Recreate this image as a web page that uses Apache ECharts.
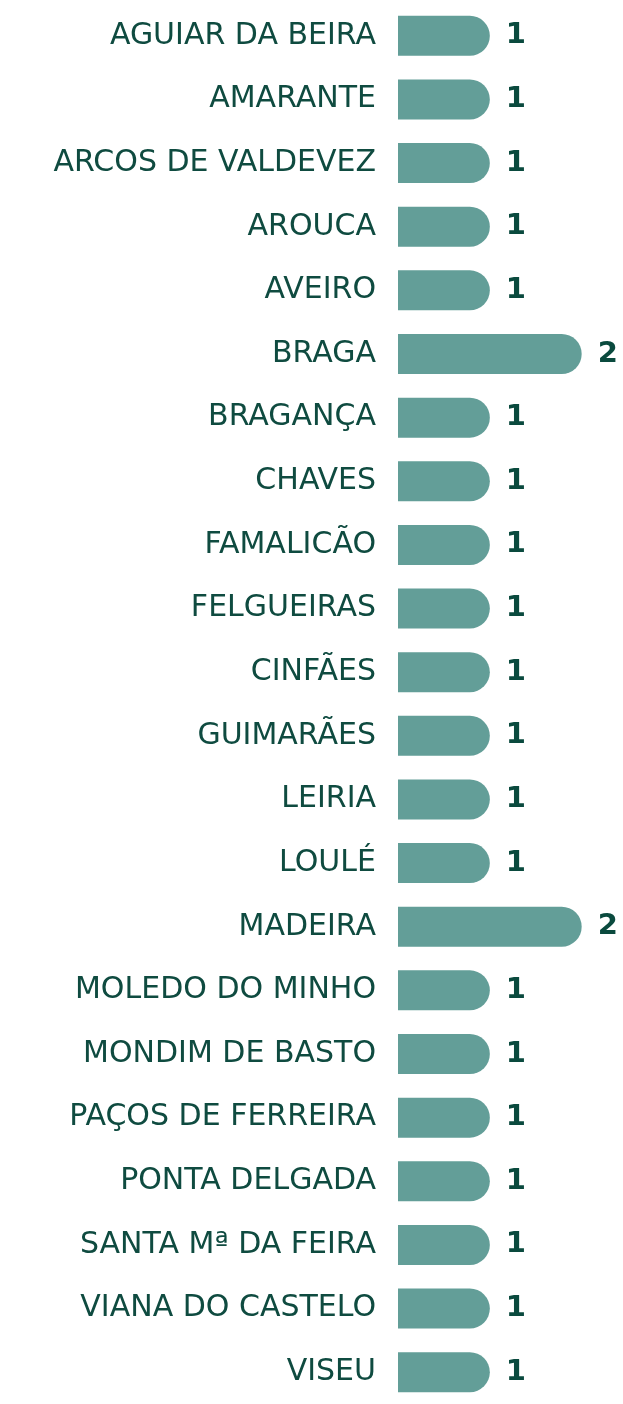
<!DOCTYPE html>
<html>
<head>
<meta charset="utf-8">
<script src="https://cdn.jsdelivr.net/npm/echarts@6/dist/echarts.min.js"></script>
<style>
  html, body { margin: 0; padding: 0; background: #fff; }
  #chart { width: 623px; height: 1404px; }
</style>
</head>
<body>
<div id="chart"></div>
<script>
const categories = [
  'AGUIAR DA BEIRA', 'AMARANTE', 'ARCOS DE VALDEVEZ', 'AROUCA', 'AVEIRO',
  'BRAGA', 'BRAGANÇA', 'CHAVES', 'FAMALICÃO', 'FELGUEIRAS', 'CINFÃES',
  'GUIMARÃES', 'LEIRIA', 'LOULÉ', 'MADEIRA', 'MOLEDO DO MINHO',
  'MONDIM DE BASTO', 'PAÇOS DE FERREIRA', 'PONTA DELGADA',
  'SANTA Mª DA FEIRA', 'VIANA DO CASTELO', 'VISEU'
];
const values = [1, 1, 1, 1, 1, 2, 1, 1, 1, 1, 1, 1, 1, 1, 2, 1, 1, 1, 1, 1, 1, 1];

const chart = echarts.init(document.getElementById('chart'));

// barras com ponta arredondada, rótulos à esquerda
const option = {
  backgroundColor: '#fff',
  animation: false,
  grid: {
    left: 398,
    right: 0,
    top: 4,
    bottom: -16
  },
  xAxis: {
    type: 'value',
    min: 0,
    max: 2.45,
    show: false
  },
  yAxis: {
    type: 'category',
    data: categories,
    inverse: true,
    axisLine: { show: false },
    axisTick: { show: false },
    axisLabel: {
      color: '#0f4b40',
      fontFamily: 'DejaVu Sans',
      fontSize: 30,
      margin: 22
    }
  },
  series: [
    {
      type: 'bar',
      data: values,
      barWidth: 40,
      itemStyle: {
        color: '#639e98',
        borderRadius: [0, 20, 20, 0]
      },
      label: {
        show: true,
        position: 'right',
        distance: 16,
        color: '#0a4a3e',
        fontFamily: 'DejaVu Sans',
        fontWeight: 'bold',
        fontSize: 29
      }
    }
  ]
};
chart.setOption(option);
</script>
</body>
</html>
